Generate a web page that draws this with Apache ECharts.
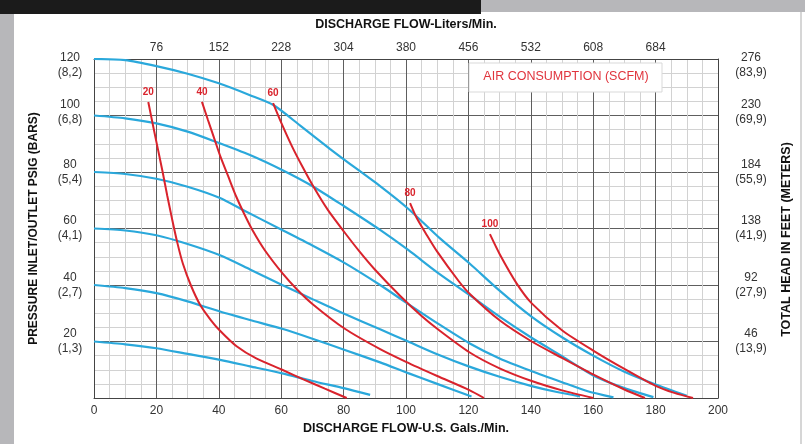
<!DOCTYPE html>
<html><head><meta charset="utf-8">
<script src="https://cdn.jsdelivr.net/npm/echarts@6/dist/echarts.min.js"></script>
<style>html,body{margin:0;padding:0;background:#fff}#c{width:805px;height:444px}</style>
</head><body><div id="c"></div>
<script>
// Tick labels
const litersLabels = ['76','152','228','304','380','456','532','608','684'];
const psiLabels = ['20','40','60','80','100','120'];
const barLabels = ['1,3','2,7','4,1','5,4','6,8','8,2'];
const feetLabels = ['46','92','138','184','230','276'];
const meterLabels = ['13,9','27,9','41,9','55,9','69,9','83,9'];

// Pressure curves (GPM, PSIG)
const psi120 = [[0,120],[10,119.6],[20,117.5],[30,114.8],[40,111.4],[50,107.2],[57.5,103.7],[66,96.5],[75.6,88.2],[80.4,84.2],[91.7,75],[100.7,67],[110.9,56.5],[120.3,47.7],[130,38],[140,29],[150,21.5],[160,15],[170,9.3],[180,4.8],[190,0.8]];
const psi100 = [[0,100],[10,99],[20,97.2],[30,94.3],[38.8,90.8],[50,86],[60.3,80.7],[70.3,74.8],[80.4,67.7],[91.7,59.5],[100.7,52.4],[110,44.5],[120.3,36.5],[130,28.8],[140,21.5],[150,14.8],[160,8],[170,3.5],[179.3,0.3]];
const psi80 = [[0,80],[10,79.3],[20,77.6],[30,74.8],[40.4,70.8],[47.3,66.8],[60.3,59.5],[70,54],[80,48],[91.7,40],[100.4,33.5],[110,26.5],[120.3,19.4],[130,14],[140.3,9.5],[150,5.6],[158,2.5],[166.5,0.2]];
const psi60 = [[0,60],[10,59.3],[20,57.6],[30,54.5],[40.4,50.5],[50,45.5],[60.3,40],[70,35],[80.4,29.7],[91.7,24.3],[100.7,20],[110,15.5],[120.3,11.1],[130,7.5],[140.3,4.2],[148,2.2],[155.8,0.6]];
const psi40 = [[0,40],[10,38.9],[20,37.1],[30,34.2],[40.4,30.6],[50,27.6],[60.3,24.5],[70,21],[80.4,17],[91.7,12.6],[100.7,8.8],[110,5],[121,0.5]];
const psi20 = [[0,20],[10,19],[20,17.6],[30,15.6],[40.4,13.5],[50,11.2],[60.3,8.7],[70,6],[80.4,3.4],[88.5,1.1]];

// Air consumption curves (SCFM)
const scfmNames = ['20','40','60','80','100'];
const scfm20 = [[17.4,104.8],[19,96],[20.5,88],[22,80],[23.5,71.5],[25,63.5],[26.7,55],[28.5,47.5],[31,40],[34,33],[37.5,27.5],[40.4,23.8],[45.7,18.3],[52,14],[60.3,10],[67.1,6.6],[74,3.3],[81,0]];
const scfm40 = [[34.6,104.8],[36.5,98.5],[38.5,92],[40.5,85.5],[43,78.5],[45.5,71.5],[48,65.5],[51,59],[54.8,52.2],[60.5,44],[65,38.5],[70,33.3],[80.4,24.5],[91.7,17.3],[100,12.8],[110,7.8],[120.3,2.8],[125,0]];
const scfm60 = [[57.4,104.4],[60,97.5],[63.5,89],[67,81.5],[70.5,74.5],[75,66.5],[80.4,58.5],[85,52],[90,45.5],[98,36.3],[105,29],[110,24.5],[120.3,16.2],[130,10.5],[140.3,6],[150,2.7],[160,0]];
const scfm80 = [[101.3,69],[103.4,63.8],[106.6,57.8],[110,51.8],[116.8,41.5],[120.3,37],[130,27.5],[140.3,20],[150,14.2],[160.6,8],[170,3],[176.6,0]];
const scfm100 = [[126.9,58],[130,51],[135.5,40.5],[140.3,33.5],[150,24],[160,16.8],[170,10.3],[180,4.3],[186,1.8],[192,0]];

const FONT = 'Liberation Sans, Arial, sans-serif';
const BLUE = '#2aa8db';
const RED = '#d9232c';

const blueSets = [psi120, psi100, psi80, psi60, psi40, psi20];
const redSets = [scfm20, scfm40, scfm60, scfm80, scfm100];

const series = [];
blueSets.forEach((d, i) => {
  series.push({
    name: psiLabels[5 - i] + ' PSIG', type: 'line', data: d, smooth: 0.25, showSymbol: false,
    lineStyle: { color: BLUE, width: 2.2 }, z: 3, silent: true
  });
});
redSets.forEach((d, i) => {
  series.push({
    name: scfmNames[i] + ' SCFM', type: 'line', data: d, smooth: 0.25, showSymbol: false,
    lineStyle: { color: RED, width: 2 }, z: 4, silent: true,
    markPoint: {
      symbol: 'circle', symbolSize: 1, itemStyle: { color: 'rgba(0,0,0,0)' },
      label: { show: true, position: 'top', distance: 4, color: RED, fontWeight: 'bold', fontSize: 10, fontFamily: FONT, formatter: scfmNames[i] },
      data: [{ coord: d[0], value: scfmNames[i] }]
    }
  });
});

// two-line tick label; top ones nudged like the original
function twoLine(a, b, i) {
  const body = '{n|' + a + '}\n{n|(' + b + ')}';
  if (i === 5) return '{s| }\n' + body;
  if (i === 4) return body + '\n{s2| }';
  return body;
}
const richStyle = {
  n: { fontSize: 12, color: '#333', fontFamily: FONT, lineHeight: 15, align: 'center' },
  s: { fontSize: 1, lineHeight: 13 },
  s2: { fontSize: 1, lineHeight: 6 }
};

const axisLine = { show: true, onZero: false, lineStyle: { color: '#444', width: 1 } };
const labelStyle = { fontSize: 12, color: '#333', fontFamily: FONT };
const nameStyle = { fontSize: 12.5, fontWeight: 'bold', color: '#111', fontFamily: FONT };

const option = {
  animation: false,
  backgroundColor: '#fff',
  grid: { left: 94, right: 87, top: 59, bottom: 46 },
  xAxis: [
    {
      type: 'value', position: 'bottom', min: 0, max: 200, interval: 20,
      axisLine, axisTick: { show: false },
      axisLabel: Object.assign({ margin: 7 }, labelStyle),
      splitLine: { show: true, lineStyle: { color: '#5e5e5e', width: 1 } },
      minorTick: { show: false, splitNumber: 4 },
      minorSplitLine: { show: true, lineStyle: { color: '#d2d2d2', width: 1 } },
      name: 'DISCHARGE FLOW-U.S. Gals./Min.', nameLocation: 'middle', nameGap: 23, nameTextStyle: nameStyle
    },
    {
      type: 'value', position: 'top', min: 0, max: 200, interval: 20,
      axisLine, axisTick: { show: false },
      axisLabel: Object.assign({ margin: 5, formatter: v => litersLabels[v / 20 - 1] || '' }, labelStyle),
      splitLine: { show: false },
      name: 'DISCHARGE FLOW-Liters/Min.', nameLocation: 'middle', nameGap: 28, nameTextStyle: nameStyle
    }
  ],
  yAxis: [
    {
      type: 'value', position: 'left', min: 0, max: 120, interval: 20,
      axisLine, axisTick: { show: false },
      axisLabel: Object.assign({ margin: 24, align: 'center', rich: richStyle,
        formatter: v => { const i = v / 20 - 1; return i < 0 ? '' : twoLine(psiLabels[i], barLabels[i], i); } }, labelStyle),
      splitLine: { show: true, lineStyle: { color: '#5e5e5e', width: 1 } },
      minorTick: { show: false, splitNumber: 4 },
      minorSplitLine: { show: true, lineStyle: { color: '#d2d2d2', width: 1 } },
      name: 'PRESSURE INLET/OUTLET PSIG (BARS)', nameLocation: 'middle', nameRotate: 90, nameGap: 54,
      nameTextStyle: Object.assign({}, nameStyle, { fontSize: 12 })
    },
    {
      type: 'value', position: 'right', min: 0, max: 120, interval: 20,
      axisLine, axisTick: { show: false },
      axisLabel: Object.assign({ margin: 33, align: 'center', rich: richStyle,
        formatter: v => { const i = v / 20 - 1; return i < 0 ? '' : twoLine(feetLabels[i], meterLabels[i], i); } }, labelStyle),
      splitLine: { show: false },
      name: 'TOTAL HEAD IN FEET (METERS)', nameLocation: 'middle', nameRotate: 90, nameGap: 62,
      nameTextStyle: Object.assign({}, nameStyle, { fontSize: 12.5, padding: [0, 22, 0, 0] })
    }
  ],
  graphic: [
    { type: 'rect', shape: { x: 0, y: 0, width: 14, height: 444 }, style: { fill: '#b7b7ba' }, z: 1 },
    { type: 'rect', shape: { x: 481, y: 0, width: 324, height: 12 }, style: { fill: '#b7b7ba' }, z: 1 },
    { type: 'rect', shape: { x: 0, y: 0, width: 481, height: 14 }, style: { fill: '#1b1b1b' }, z: 2 },
    { type: 'rect', shape: { x: 800, y: 12, width: 2, height: 432 }, style: { fill: '#d6d6d6' }, z: 1 },
    { type: 'rect', shape: { x: 469, y: 63, width: 193, height: 29 }, style: { fill: '#fff', stroke: '#d9d9d9', lineWidth: 1 }, z: 10 },
    { type: 'text', x: 566, y: 77, style: { text: 'AIR CONSUMPTION (SCFM)', fill: '#e0343d', font: '12.5px Liberation Sans, Arial, sans-serif', textAlign: 'center', textVerticalAlign: 'middle' }, z: 11 }
  ],
  series
};

const chart = echarts.init(document.getElementById('c'), null, { renderer: 'canvas' });
chart.setOption(option);
</script>
</body></html>
